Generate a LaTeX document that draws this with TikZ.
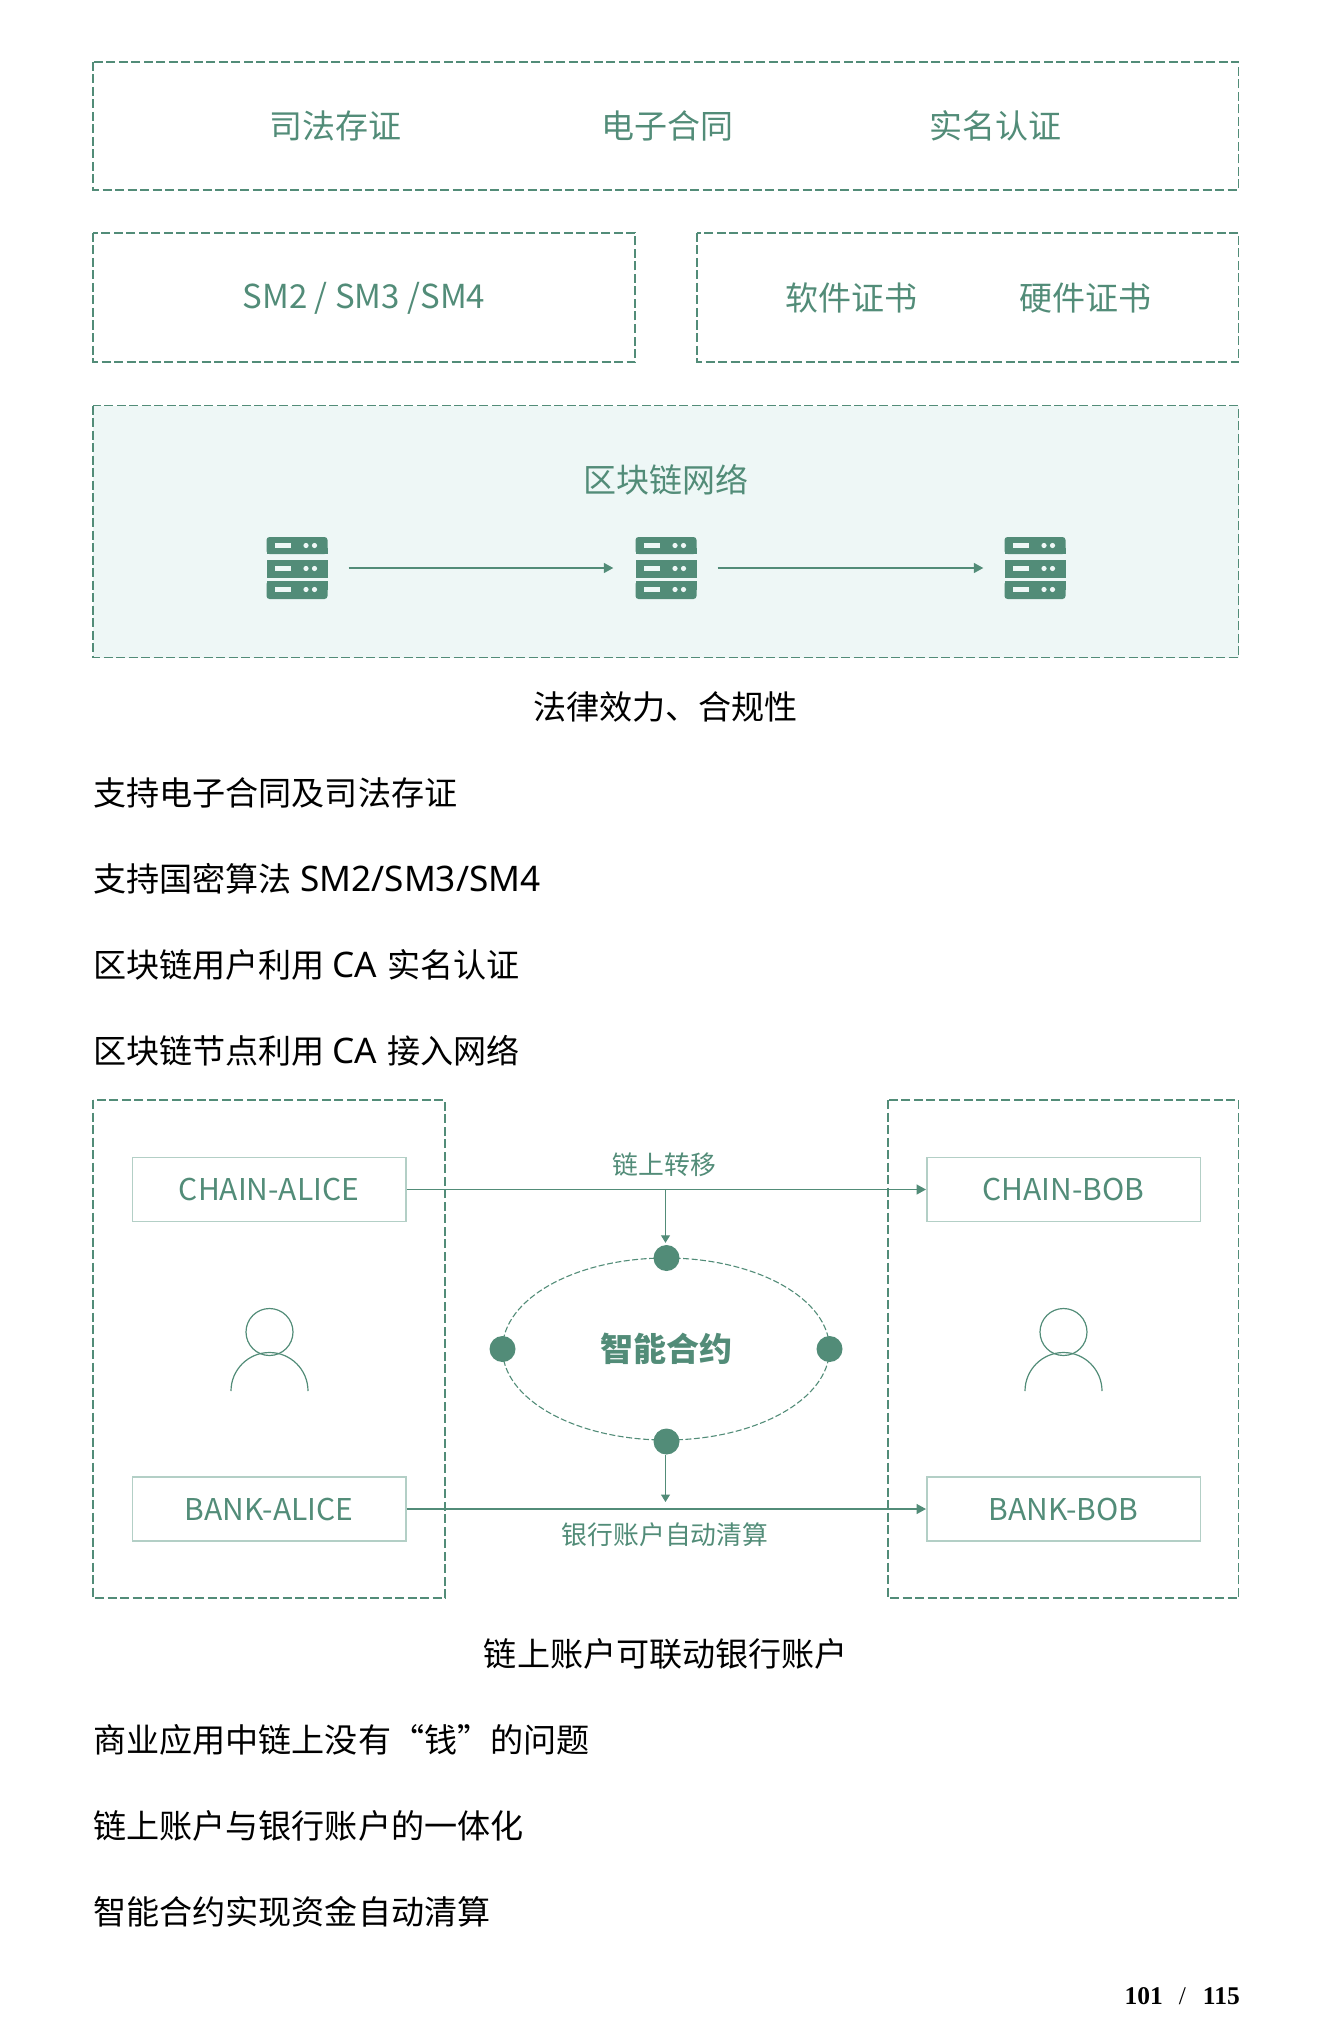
\documentclass[tikz,border=0pt]{standalone}
\usepackage{fontspec}
\setmainfont{Noto Sans CJK SC}
\newfontfamily\pagefont{Liberation Serif}
\newfontfamily\latfont{Noto Sans}
\newcommand{\lat}[1]{{\latfont\fontsize{35.2}{36}\selectfont #1}}
\usetikzlibrary{arrows.meta}
\definecolor{gn}{HTML}{528C78}
\definecolor{gnlight}{HTML}{B3CFC6}
\definecolor{gnfill}{HTML}{EEF7F6}
\tikzset{
  x=1pt,y=-1pt,
  dashbox/.style={draw=gn,line width=1.8pt,dash pattern=on 9pt off 3.5pt},
  dashboxthin/.style={draw=gn,line width=1.4pt,dash pattern=on 9pt off 3.5pt},
  gtext/.style={text=gn,font=\fontsize{33}{36}\selectfont,inner sep=0pt},
  bodytext/.style={text=black,font=\fontsize{33.1}{36}\selectfont,inner sep=0pt},
  lefttext/.style={bodytext,anchor=west},
  accbox/.style={draw=gnlight,line width=1.5pt,minimum width=273.5pt,minimum height=64pt,inner sep=0pt,text=gn,font=\fontsize{30}{36}\selectfont},
  smalltext/.style={text=gn,font=\fontsize{25.8}{30}\selectfont,inner sep=0pt},
  flow/.style={draw=gn,line width=1.5pt,-{Triangle[length=9.5pt,width=10pt]}},
  vflow/.style={draw=gn,line width=1.1pt,-{Triangle[length=7.5pt,width=9pt]}},
  bigdot/.style={circle,fill=gn,minimum size=26pt,inner sep=0pt},
  srv/.style={minimum width=61pt,minimum height=62pt,inner sep=0pt},
  serverpic/.pic={
    \fill[gn,rounded corners=3pt] (-30.5,-31) -- (30.5,-31) -- (30.5,-14) -- (-30.5,-14) -- cycle;
    \fill[gn] (-30.5,-20) rectangle (30.5,-14);
    \fill[gn] (-30.5,-8) rectangle (30.5,9.5);
    \fill[gn,rounded corners=3pt] (-30.5,13) -- (30.5,13) -- (30.5,31) -- (-30.5,31) -- cycle;
    \fill[gn] (-30.5,13) rectangle (30.5,22);
    \foreach \yy in {-22.5,0.5,21.5}{
      \fill[gnfill] (-22.5,\yy-2.6) rectangle (-6.5,\yy+2.6);
      \fill[gnfill] (9,\yy) circle (2.6);
      \fill[gnfill] (17.5,\yy) circle (2.6);
    }
  },
  personpic/.style={draw=gn,line width=1.2pt},
}
\begin{document}
\begin{tikzpicture}
\useasboundingbox (0,0) rectangle (1332,2041);
% top boxes
\draw[dashbox] (93,62) rectangle (1238.5,190);
\node[gtext] (a1) at (335,126) {司法存证};
\node[gtext] (a2) at (667,126) {电子合同};
\node[gtext] (a3) at (995,126) {实名认证};
\draw[dashbox] (93,233) rectangle (635,362);
\draw[dashbox] (697,233) rectangle (1238.5,362);
\node[gtext] (b1) at (364,298) {SM2 / SM3 /SM4};
\node[gtext] (b2) at (851,298) {软件证书};
\node[gtext] (b3) at (1085,298) {硬件证书};
% network
\draw[dashbox,fill=gnfill] (93,405.5) rectangle (1238.5,657.5);
\node[gtext] (c0) at (665.5,480) {区块链网络};
\node[srv] (s1) at (297,568) {};
\node[srv] (s2) at (666,568) {};
\node[srv] (s3) at (1035,568) {};
\foreach \n in {s1,s2,s3} \pic at (\n) {serverpic};
\draw[flow,shorten <=21pt,shorten >=22pt] (s1.east) -- (s2.west);
\draw[flow,shorten <=21pt,shorten >=21pt] (s2.east) -- (s3.west);
% texts
\node[bodytext] (t0) at (665.5,707) {法律效力、合规性};
\node[lefttext] (t1) at (93,792.5) {支持电子合同及司法存证};
\node[lefttext] (t2) at (93,878.5) {支持国密算法\hspace{1pt} \lat{SM2/SM3/SM4}};
\node[lefttext] (t3) at (93,965) {区块链用户利用 \lat{CA}\hspace{3pt} 实名认证};
\node[lefttext] (t4) at (93,1051) {区块链节点利用 \lat{CA}\hspace{3pt} 接入网络};
% accounts
\draw[dashboxthin] (93,1100) rectangle (445,1598);
\draw[dashboxthin] (888,1100) rectangle (1238.5,1598);
\node[accbox] (ca) at (269,1189.5) {CHAIN-ALICE};
\node[accbox] (ba) at (269,1509) {BANK-ALICE};
\node[accbox] (cb) at (1063.5,1189.5) {CHAIN-BOB};
\node[accbox] (bb) at (1063.5,1509) {BANK-BOB};
\draw[flow] (ca.east) -- (cb.west);
\draw[flow] (ba.east) -- (bb.west);
\node[smalltext] (l1) at (664.5,1165) {链上转移};
\node[smalltext] (l2) at (665,1535) {银行账户自动清算};
% persons
\draw[personpic] (269.5,1332) circle (23.5);
\draw[personpic] (231,1391) arc[start angle=180,end angle=360,radius=38.5];
\draw[personpic] (1063.5,1332) circle (23.5);
\draw[personpic] (1025,1391) arc[start angle=180,end angle=360,radius=38.5];
% contract
\draw[draw=gn,line width=1.1pt,dash pattern=on 6pt off 2.5pt] (666,1349) ellipse [x radius=163.5,y radius=91];
\node[bigdot] (d1) at (666.5,1258) {};
\node[bigdot] (d2) at (502.5,1349) {};
\node[bigdot] (d3) at (829.5,1349) {};
\node[bigdot] (d4) at (666.5,1441.5) {};
\node[text=gn,font=\fontsize{33}{36}\selectfont\bfseries,inner sep=0pt] (sc) at (666,1349) {智能合约};
\coordinate (u1) at ([xshift=-1pt]d1 |- ca.east);
\coordinate (u2) at ([xshift=-1pt]d4 |- ba.east);
\draw[vflow,shorten >=2pt] (u1) -- ([xshift=-1pt]d1.north);
\draw[vflow,shorten >=7pt] ([xshift=-1pt]d4.south) -- (u2);
% lower texts
\node[bodytext] (t5) at (666,1654) {链上账户可联动银行账户};
\node[lefttext] (t6) at (93,1740) {商业应用中链上没有“钱”的问题};
\node[lefttext] (t7) at (93,1826) {链上账户与银行账户的一体化};
\node[lefttext] (t8) at (93,1912) {智能合约实现资金自动清算};
\node[anchor=east,inner sep=0pt,text=black,font=\pagefont\fontsize{25.5}{30}\selectfont] (pg) at (1240,1996) {\textbf{101}\hspace{16pt}/\hspace{17pt}\textbf{115}};
\end{tikzpicture}
\end{document}
